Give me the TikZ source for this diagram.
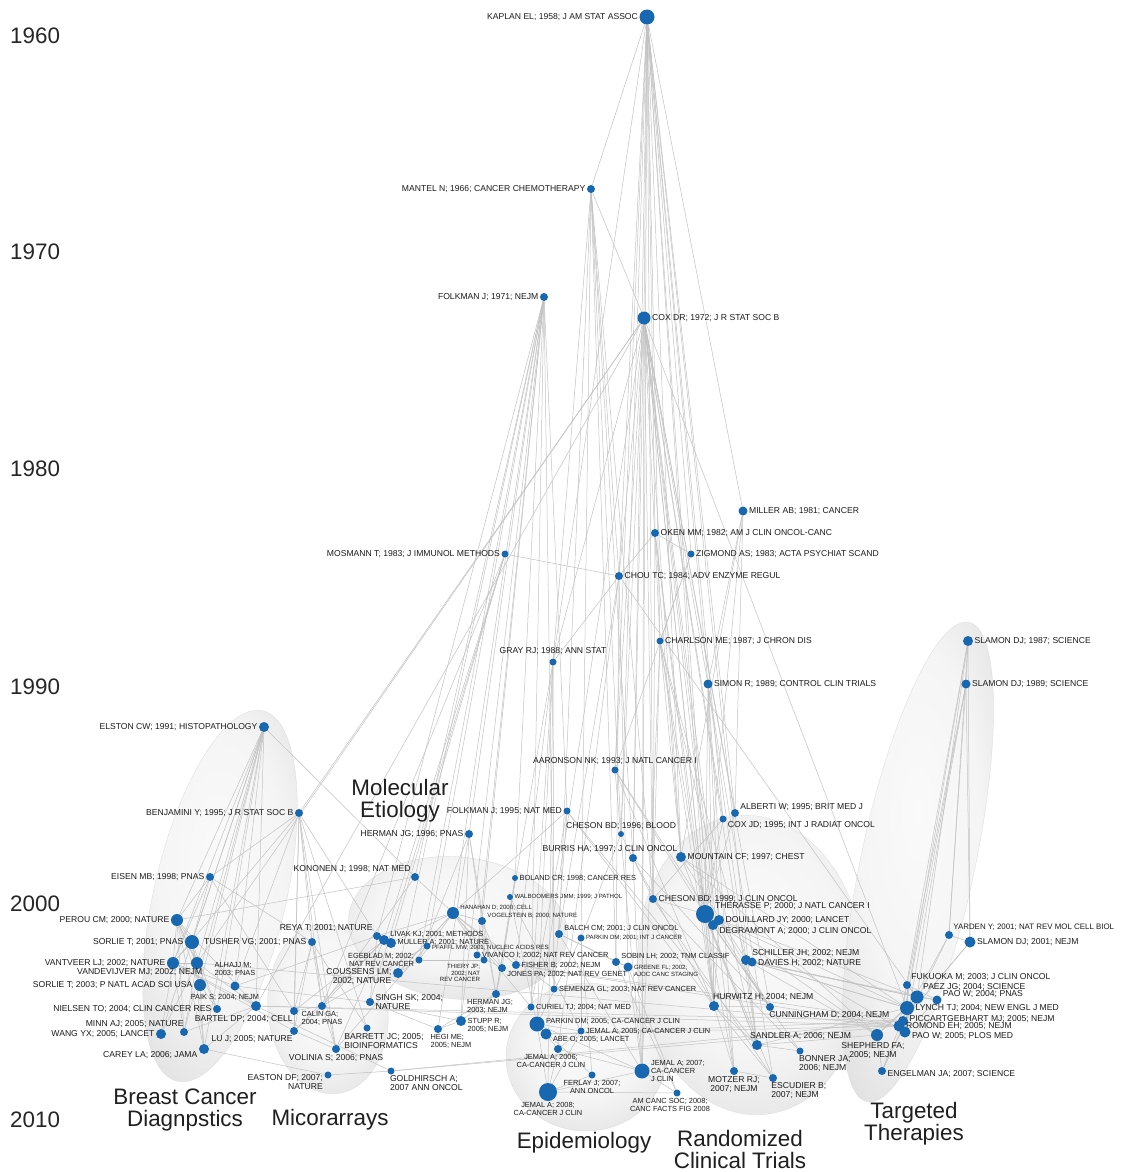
\documentclass[tikz,border=0pt]{standalone}
\usepackage{fontspec}
\setmainfont{Liberation Sans}
\usepackage{tikz}
\usetikzlibrary{positioning, shapes.geometric, graphs}
\usepackage{xcolor}
\definecolor{citeblue}{RGB}{23,104,176}
\definecolor{linkgray}{RGB}{194,194,194}
\definecolor{tagtext}{RGB}{28,28,28}
\pgfdeclareradialshading{bubble}{\pgfpoint{0bp}{5bp}}{%
  color(0bp)=(black!2); color(18bp)=(black!4); color(32bp)=(black!11);
  color(42bp)=(black!22); color(48bp)=(black!34); color(52bp)=(black!40); color(72bp)=(black!40)}
\pgfdeclarelayer{bubbles}
\pgfdeclarelayer{links}
\pgfsetlayers{bubbles,links,main}

\begin{document}
\begin{tikzpicture}[x=1pt, y=-1pt,
    paper/.style={circle, fill=citeblue, inner sep=0pt, minimum size=#1},
    paper/.default=8pt,
    every label/.style={text=tagtext, font=\fontsize{8.6}{9}\selectfont, inner sep=1.2pt},
    smalltag/.style={font=\fontsize{7.4}{8}\selectfont},
    tinytag/.style={font=\fontsize{6.1}{6.8}\selectfont},
    link/.style={draw=linkgray, line width=0.5pt},
    bubble/.style={ellipse, shade, shading=bubble, draw=black!14, line width=0.3pt, inner sep=0pt},
    year/.style={anchor=west, inner sep=0pt, text=black!85, font=\fontsize{22.4}{22.4}\selectfont},
    topic/.style={align=center, inner sep=0pt, text=black!88, font=\fontsize{22.4}{22}\selectfont}]
    \useasboundingbox (0,0) rectangle (1126,1172);

    % clusters
    \begin{pgfonlayer}{bubbles}
    \fill[white] (0,0) rectangle (1126,1172);
    \node[bubble, minimum width=380pt, minimum height=132pt, rotate=77] (breastBub) at (220,896) {};
    \node[bubble, minimum width=120pt, minimum height=170pt, rotate=6] (microBub) at (328,1009) {};
    \node[bubble, minimum width=220pt, minimum height=142pt, rotate=-6] (molBub) at (458,928) {};
    \node[bubble, minimum width=160pt, minimum height=148pt] (epiBub) at (586,1057) {};
    \node[bubble, minimum width=226pt, minimum height=300pt, rotate=5] (rctBub) at (751,965) {};
    \node[bubble, minimum width=490pt, minimum height=114pt, rotate=78] (targBub) at (918,862) {};
    \end{pgfonlayer}

    % years
    \node[year] (y1960) at (10,36) {1960};
    \node[year] (y1970) at (10,252) {1970};
    \node[year] (y1980) at (10,469) {1980};
    \node[year] (y1990) at (10,687) {1990};
    \node[year] (y2000) at (10,904) {2000};
    \node[year] (y2010) at (10,1120) {2010};

    % papers
    \node[paper=15pt, label={left:KAPLAN EL; 1958; J AM STAT ASSOC}] (kaplan) at (647,17) {};
    \node[paper=8pt, label={left:MANTEL N; 1966; CANCER CHEMOTHERAPY}] (mantel) at (591,189) {};
    \node[paper=8pt, label={left:FOLKMAN J; 1971; NEJM}] (folkmanA) at (544,297) {};
    \node[paper=13pt, label={right:COX DR; 1972; J R STAT SOC B}] (coxdr) at (644,318) {};
    \node[paper=9pt, label={right:MILLER AB; 1981; CANCER}] (miller) at (743,511) {};
    \node[paper=8pt, label={right:OKEN MM; 1982; AM J CLIN ONCOL-CANC}] (oken) at (655,533) {};
    \node[paper=7pt, label={right:ZIGMOND AS; 1983; ACTA PSYCHIAT SCAND}] (zigmond) at (691,554) {};
    \node[paper=7pt, label={left:MOSMANN T; 1983; J IMMUNOL METHODS}] (mosmann) at (505,554) {};
    \node[paper=8pt, label={right:CHOU TC; 1984; ADV ENZYME REGUL}] (chou) at (619,576) {};
    \node[paper=7pt, label={right:CHARLSON ME; 1987; J CHRON DIS}] (charlson) at (660,641) {};
    \node[paper=7pt, label={[label distance=2pt]above:GRAY RJ; 1988; ANN STAT}] (gray) at (553,662) {};
    \node[paper=9pt, label={right:SIMON R; 1989; CONTROL CLIN TRIALS}] (simon) at (708,684) {};
    \node[paper=10pt, label={right:SLAMON DJ; 1987; SCIENCE}] (slamonA) at (968,641) {};
    \node[paper=9pt, label={right:SLAMON DJ; 1989; SCIENCE}] (slamonB) at (966,684) {};
    \node[paper=10pt, label={left:ELSTON CW; 1991; HISTOPATHOLOGY}] (elston) at (264,727) {};
    \node[paper=7pt, label={above:AARONSON NK; 1993; J NATL CANCER I}] (aaronson) at (615,770) {};
    \node[paper=8pt, label={left:BENJAMINI Y; 1995; J R STAT SOC B}] (benjamini) at (299,813) {};
    \node[paper=7pt, label={left:FOLKMAN J; 1995; NAT MED}] (folkmanB) at (567,811) {};
    \node[paper=8pt, label={15:ALBERTI W; 1995; BRIT MED J}] (alberti) at (735,813) {};
    \node[paper=7pt, label={-20:COX JD; 1995; INT J RADIAT ONCOL}] (coxjd) at (723,819) {};
    \node[paper=8pt, label={left:HERMAN JG; 1996; PNAS}] (hermanA) at (469,834) {};
    \node[paper=6pt, label={above:CHESON BD; 1996; BLOOD}] (chesonA) at (621,834) {};
    \node[paper=8pt, label={[xshift=-23pt]above:BURRIS HA; 1997; J CLIN ONCOL}] (burris) at (633,858) {};
    \node[paper=10pt, label={right:MOUNTAIN CF; 1997; CHEST}] (mountain) at (681,857) {};
    \node[paper=8pt, label={left:EISEN MB; 1998; PNAS}] (eisen) at (210,877) {};
    \node[paper=8pt, label={above left:KONONEN J; 1998; NAT MED}] (kononen) at (415,877) {};
    \node[paper=6pt, label={[smalltag]right:BOLAND CR; 1998; CANCER RES}] (boland) at (515,878) {};
    \node[paper=6pt, label={[tinytag]right:WALBOOMERS JMM; 1999; J PATHOL}] (walboom) at (510,897) {};
    \node[paper=8pt, label={right:CHESON BD; 1999; J CLIN ONCOL}] (chesonB) at (653,899) {};
    \node[paper=12pt, label={[tinytag]15:HANAHAN D; 2000; CELL}] (hanahan) at (453,913) {};
    \node[paper=8pt, label={[tinytag]15:VOGELSTEIN B; 2000; NATURE}] (vogel) at (482,921) {};
    \node[paper=18pt, label={20:THERASSE P; 2000; J NATL CANCER I}] (therasse) at (705,914) {};
    \node[paper=10pt, label={right:DOUILLARD JY; 2000; LANCET}] (douillard) at (719,920) {};
    \node[paper=10pt, label={-15:DEGRAMONT A; 2000; J CLIN ONCOL}] (degramont) at (713,925) {};

    % breast cancer
    \node[paper=12pt, label={left:PEROU CM; 2000; NATURE}] (perou) at (177,920) {};
    \node[paper=14pt, label={left:SORLIE T; 2001; PNAS}] (sorlieA) at (192,942) {};
    \node[paper=12pt, label={left:VANTVEER LJ; 2002; NATURE}] (vantveer) at (173,963) {};
    \node[paper=12pt, label={[xshift=11pt]below left:VANDEVIJVER MJ; 2002; NEJM}] (vandevijver) at (197,963) {};
    \node[paper=12pt, label={left:SORLIE T; 2003; P NATL ACAD SCI USA}] (sorlieB) at (200,985) {};
    \node[paper=9pt, label={[smalltag, align=left, yshift=3pt]above:ALHAJJ M;\\2003; PNAS}] (alhajj) at (235,986) {};
    \node[paper=10pt, label={[smalltag, xshift=8pt]above left:PAIK S; 2004; NEJM}] (paik) at (256,1006) {};
    \node[paper=8pt, label={left:NIELSEN TO; 2004; CLIN CANCER RES}] (nielsen) at (217,1009) {};
    \node[paper=8pt, label={[xshift=4pt]above left:MINN AJ; 2005; NATURE}] (minn) at (184,1032) {};
    \node[paper=10pt, label={left:WANG YX; 2005; LANCET}] (wangyx) at (161,1034) {};
    \node[paper=10pt, label={[yshift=-6pt]left:CAREY LA; 2006; JAMA}] (carey) at (204,1049) {};

    % microarrays
    \node[paper=8pt, label={left:TUSHER VG; 2001; PNAS}] (tusher) at (312,942) {};
    \node[paper=8pt, label={above left:REYA T; 2001; NATURE}] (reya) at (377,936) {};
    \node[paper=10pt, label={[smalltag]15:LIVAK KJ; 2001; METHODS}] (livak) at (384,940) {};
    \node[paper=10pt, label={[smalltag, yshift=1pt]right:MULLER A; 2001; NATURE}] (muller) at (391,943) {};
    \node[paper=7pt, label={[tinytag, yshift=-2pt]right:PFAFFL MW; 2001; NUCLEIC ACIDS RES}] (pfaffl) at (427,946) {};
    \node[paper=7pt, label={[smalltag, align=right]left:EGEBLAD M; 2002;\\NAT REV CANCER}] (egeblad) at (419,960) {};
    \node[paper=10pt, label={[align=right, yshift=-4pt]left:COUSSENS LM;\\2002; NATURE}] (coussens) at (398,973) {};
    \node[paper=8pt, label={[align=left]right:SINGH SK; 2004;\\NATURE}] (singh) at (370,1002) {};
    \node[paper=8pt, label={[smalltag, align=left]below:CALIN GA;\\2004; PNAS}] (calin) at (322,1006) {};
    \node[paper=8pt, label={[xshift=3pt]below left:BARTEL DP; 2004; CELL}] (bartel) at (294,1011) {};
    \node[paper=8pt, label={[xshift=3pt]below left:LU J; 2005; NATURE}] (luj) at (294,1031) {};
    \node[paper=7pt, label={[align=left, xshift=17pt]below:BARRETT JC; 2005;\\BIOINFORMATICS}] (barrett) at (367,1028) {};
    \node[paper=8pt, label={below:VOLINIA S; 2006; PNAS}] (volinia) at (336,1049) {};
    \node[paper=7pt, label={[align=right, yshift=-7pt]left:EASTON DF; 2007;\\NATURE}] (easton) at (328,1075) {};
    \node[paper=7pt, label={[align=left, xshift=-5pt]below right:GOLDHIRSCH A;\\2007 ANN ONCOL}] (goldhirsch) at (391,1071) {};

    % molecular etiology
    \node[paper=7pt, label={[smalltag]right:VIVANCO I; 2002; NAT REV CANCER}] (vivanco) at (477,955) {};
    \node[paper=7pt, label={[tinytag, align=right]below left:THIERY JP;\\2002; NAT\\REV CANCER}] (thiery) at (484,960) {};
    \node[paper=8pt, label={[smalltag]-20:JONES PA; 2002; NAT REV GENET}] (jones) at (502,968) {};
    \node[paper=8pt, label={[smalltag]right:FISHER B; 2002; NEJM}] (fisher) at (516,965) {};
    \node[paper=8pt, label={[smalltag]15:BALCH CM; 2001; J CLIN ONCOL}] (balch) at (559,934) {};
    \node[paper=7pt, label={[tinytag]right:PARKIN DM; 2001; INT J CANCER}] (parkinA) at (581,938) {};
    \node[paper=8pt, label={[smalltag]20:SOBIN LH; 2002; TNM CLASSIF}] (sobin) at (616,962) {};
    \node[paper=9pt, label={[tinytag, align=left, yshift=-4pt]right:GREENE FL; 2002;\\AJOC CANC STAGING}] (greene) at (628,967) {};
    \node[paper=7pt, label={[smalltag]right:SEMENZA GL; 2003; NAT REV CANCER}] (semenza) at (554,989) {};
    \node[paper=7pt, label={[smalltag]right:CURIEL TJ; 2004; NAT MED}] (curiel) at (531,1007) {};
    \node[paper=8pt, label={[smalltag, align=left, xshift=-6pt]below:HERMAN JG;\\2003; NEJM}] (hermanB) at (496,994) {};
    \node[paper=8pt, label={[smalltag, align=left, xshift=13pt]below:HEGI ME;\\2005; NEJM}] (hegi) at (438,1029) {};
    \node[paper=10pt, label={[smalltag, align=left, yshift=-4pt]right:STUPP R;\\2005; NEJM}] (stupp) at (461,1021) {};

    % epidemiology
    \node[paper=15pt, label={[smalltag, yshift=3pt]right:PARKIN DM; 2005; CA-CANCER J CLIN}] (parkinB) at (537,1024) {};
    \node[paper=11pt, label={[smalltag]-10:ABE O; 2005; LANCET}] (abe) at (546,1034) {};
    \node[paper=7pt, label={[smalltag]right:JEMAL A; 2005; CA-CANCER J CLIN}] (jemalA) at (581,1031) {};
    \node[paper=8pt, label={[smalltag, align=center, xshift=-7pt]below:JEMAL A; 2006;\\CA-CANCER J CLIN}] (jemalB) at (558,1049) {};
    \node[paper=18pt, label={[smalltag, align=center]below:JEMAL A; 2008;\\CA-CANCER J CLIN}] (jemalD) at (548,1092) {};
    \node[paper=7pt, label={[smalltag, align=center]below:FERLAY J; 2007;\\ANN ONCOL}] (ferlay) at (592,1075) {};
    \node[paper=15pt, label={[smalltag, align=left]right:JEMAL A; 2007;\\CA-CANCER\\J CLIN}] (jemalC) at (642,1071) {};
    \node[paper=7pt, label={[smalltag, align=center, xshift=-7pt]below:AM CANC SOC; 2008;\\CANC FACTS FIG 2008}] (amsoc) at (677,1093) {};

    % randomized trials
    \node[paper=10pt, label={[xshift=-6pt]above right:HURWITZ H; 2004; NEJM}] (hurwitz) at (714,1006) {};
    \node[paper=8pt, label={[xshift=-5pt]below right:CUNNINGHAM D; 2004; NEJM}] (cunningham) at (770,1007) {};
    \node[paper=10pt, label={[xshift=-12pt]above right:SANDLER A; 2006; NEJM}] (sandler) at (757,1045) {};
    \node[paper=7pt, label={[align=left, xshift=-5pt]below right:BONNER JA;\\2006; NEJM}] (bonner) at (800,1051) {};
    \node[paper=8pt, label={[align=center]below:MOTZER RJ;\\2007; NEJM}] (motzer) at (734,1071) {};
    \node[paper=8pt, label={[align=left, xshift=-6pt]below right:ESCUDIER B;\\2007; NEJM}] (escudier) at (773,1078) {};
    \node[paper=10pt, label={20:SCHILLER JH; 2002; NEJM}] (schiller) at (746,960) {};
    \node[paper=9pt, label={[yshift=-1pt]right:DAVIES H; 2002; NATURE}] (davies) at (752,962) {};

    % targeted therapies
    \node[paper=8pt, label={[font=\fontsize{7.9}{8.5}\selectfont]above right:YARDEN Y; 2001; NAT REV MOL CELL BIOL}] (yarden) at (949,935) {};
    \node[paper=11pt, label={right:SLAMON DJ; 2001; NEJM}] (slamonC) at (970,942) {};
    \node[paper=8pt, label={above right:FUKUOKA M; 2003; J CLIN ONCOL}] (fukuoka) at (907,985) {};
    \node[paper=13pt, label={above right:PAEZ JG; 2004; SCIENCE}] (paez) at (917,997) {};
    \node[paper=9pt, label={15:PAO W; 2004; PNAS}] (paoA) at (937,1000) {};
    \node[paper=14pt, label={right:LYNCH TJ; 2004; NEW ENGL J MED}] (lynch) at (907,1008) {};
    \node[paper=10pt, label={[yshift=2pt]right:PICCARTGEBHART MJ; 2005; NEJM}] (piccart) at (903,1021) {};
    \node[paper=11pt, label={right:ROMOND EH; 2005; NEJM}] (romond) at (899,1026) {};
    \node[paper=11pt, label={[yshift=-4pt]right:PAO W; 2005; PLOS MED}] (paoB) at (905,1032) {};
    \node[paper=12pt, label={[align=center, xshift=-4pt]below:SHEPHERD FA;\\2005; NEJM}] (shepherd) at (877,1035) {};
    \node[paper=8pt, label={[yshift=-3pt]right:ENGELMAN JA; 2007; SCIENCE}] (engelman) at (882,1071) {};

    \node[topic] (molTopic) at (400,801) {Molecular\\Etiology};
    \node[topic] (breastTopic) at (185,1110) {Breast Cancer\\Diagnpstics};
    \node[topic] (microTopic) at (330,1120) {Micorarrays};
    \node[topic] (epiTopic) at (584,1143) {Epidemiology};
    \node[topic] (rctTopic) at (740,1149) {Randomized\\Clinical Trials};
    \node[topic] (targTopic) at (914,1124) {Targeted\\Therapies};

    % co-citation links
    \begin{pgfonlayer}{links}
    \graph[edges=link]{
        (kaplan) -- {(mantel), (coxdr), (miller), (simon), (coxjd), (oken), (chou), (charlson), (mountain), (chesonB), (therasse), (burris), (aaronson), (gray), (hurwitz), (chesonA), (alberti), (zigmond), (jemalC), (sandler)};
        (mantel) -- {(coxdr), (gray), (chou), (chesonA), (burris), (chesonB), (balch), (sobin), (parkinA)};
        (folkmanA) -- {(hanahan), (folkmanB), (kononen), (vogel), (curiel), (semenza), (boland), (hermanA), (egeblad), (coussens), (pfaffl), (stupp), (vivanco), (reya)};
        (coxdr) -- {(gray), (charlson), (simon), (chou), (therasse), (chesonB), (mountain), (alberti), (coxjd), (aaronson), (burris), (chesonA), (hurwitz), (sandler), (jemalC), (douillard), (degramont), (parkinB), (paik), (vandevijver), (benjamini), (cunningham), (motzer), (lynch)};
        (miller) -- {(simon), (alberti), (therasse), (mountain)};
        (oken) -- {(chou), (zigmond), (chesonB), (therasse), (mountain), (hurwitz)};
        (zigmond) -- {(aaronson), (charlson)};
        (mosmann) -- {(chou), (livak), (singh), (muller), (calin)};
        (chou) -- {(gray), (sobin), (balch), (greene), (jemalB), (paez)};
        (charlson) -- {(schiller), (sandler), (hurwitz), (therasse), (chesonB), (mountain), (jemalC)};
        (gray) -- {(parkinB), (jemalD), (fisher), (curiel), (semenza), (hermanB)};
        (simon) -- {(therasse), (douillard), (hurwitz), (motzer), (escudier), (schiller)};
        (slamonA) -- {(slamonB), (slamonC), (yarden), (romond), (piccart), (paez)};
        (slamonB) -- {(slamonC), (romond), (piccart), (yarden), (paoB)};
        (elston) -- {(perou), (sorlieA), (sorlieB), (vantveer), (vandevijver), (paik), (nielsen), (carey), (wangyx), (minn), (kononen), (alhajj)};
        (aaronson) -- {(therasse), (jemalC), (cunningham), (hurwitz)};
        (benjamini) -- {(eisen), (tusher), (reya), (calin), (luj), (bartel), (volinia), (barrett), (alhajj), (vantveer)};
        (folkmanB) -- {(hanahan), (curiel), (semenza), (hurwitz), (sandler)};
        (alberti) -- (therasse);
        (coxjd) -- {(therasse), (chesonB)};
        (hermanA) -- {(hermanB), (egeblad), (vogel), (hegi), (stupp)};
        (chesonA) -- {(chesonB), (parkinA)};
        (burris) -- {(jemalC), (cunningham), (hurwitz)};
        (mountain) -- {(schiller), (sandler), (shepherd), (lynch)};
        (eisen) -- {(perou), (sorlieA), (vantveer), (tusher), (bartel)};
        (kononen) -- {(hanahan), (perou), (calin)};
        (boland) -- {(hermanB), (jones)};
        (walboom) -- {(parkinB), (jemalA)};
        (chesonB) -- {(therasse), (escudier), (bonner)};
        (hanahan) -- {(vogel), (coussens), (egeblad), (thiery), (fisher), (reya), (muller), (curiel), (semenza), (jones)};
        (vogel) -- {(vivanco), (thiery), (jones), (hermanB)};
        (therasse) -- {(douillard), (degramont), (hurwitz), (sandler), (motzer), (escudier), (bonner), (cunningham), (shepherd), (lynch), (paez), (paoB)};
        (douillard) -- {(cunningham), (degramont), (hurwitz)};
        (degramont) -- {(cunningham), (hurwitz)};
        (perou) -- {(sorlieA), (sorlieB), (vantveer), (vandevijver), (carey), (nielsen), (paik), (minn)};
        (sorlieA) -- {(sorlieB), (carey), (vantveer), (vandevijver), (nielsen)};
        (vantveer) -- {(vandevijver), (paik), (wangyx), (minn), (luj), (alhajj)};
        (vandevijver) -- {(paik), (wangyx), (minn), (romond)};
        (sorlieB) -- {(carey), (nielsen)};
        (alhajj) -- {(reya), (singh)};
        (paik) -- {(romond), (piccart), (carey), (minn)};
        (tusher) -- {(calin), (luj), (bartel), (volinia), (barrett)};
        (reya) -- (singh);
        (livak) -- {(muller), (calin), (volinia), (luj), (bartel)};
        (pfaffl) -- {(calin), (volinia)};
        (egeblad) -- {(coussens), (thiery)};
        (coussens) -- (hanahan);
        (vivanco) -- (jones);
        (fisher) -- {(romond), (piccart)};
        (jones) -- (hermanB);
        (balch) -- {(greene), (sobin), (jemalC)};
        (parkinA) -- {(parkinB), (ferlay), (jemalA)};
        (sobin) -- {(greene), (amsoc)};
        (greene) -- {(amsoc), (jemalC)};
        (hermanB) -- {(hegi), (stupp)};
        (singh) -- {(stupp), (hegi)};
        (calin) -- {(volinia), (luj), (bartel)};
        (bartel) -- (luj);
        (luj) -- (volinia);
        (easton) -- {(carey), (goldhirsch)};
        (goldhirsch) -- {(piccart), (romond), (paik)};
        (hegi) -- (stupp);
        (parkinB) -- {(jemalA), (abe), (jemalB), (jemalD), (ferlay), (jemalC)};
        (jemalA) -- {(jemalB), (jemalD)};
        (jemalB) -- {(jemalD), (jemalC)};
        (jemalD) -- {(ferlay), (jemalC), (amsoc)};
        (jemalC) -- (amsoc);
        (hurwitz) -- {(cunningham), (sandler), (motzer), (escudier)};
        (sandler) -- {(bonner), (shepherd), (lynch)};
        (motzer) -- (escudier);
        (schiller) -- {(sandler), (shepherd), (lynch), (paez), (davies)};
        (davies) -- {(paez), (lynch), (paoA)};
        (yarden) -- {(slamonC), (romond), (engelman)};
        (slamonC) -- {(romond), (piccart)};
        (fukuoka) -- {(lynch), (paez), (paoA)};
        (paez) -- {(lynch), (paoA), (paoB), (shepherd), (engelman)};
        (lynch) -- {(shepherd), (paoB), (engelman)};
        (paoA) -- (paoB);
        (piccart) -- (romond);
        (shepherd) -- (engelman);
        (abe) -- {(romond), (piccart)};
    };
    \end{pgfonlayer}
\end{tikzpicture}
\end{document}
